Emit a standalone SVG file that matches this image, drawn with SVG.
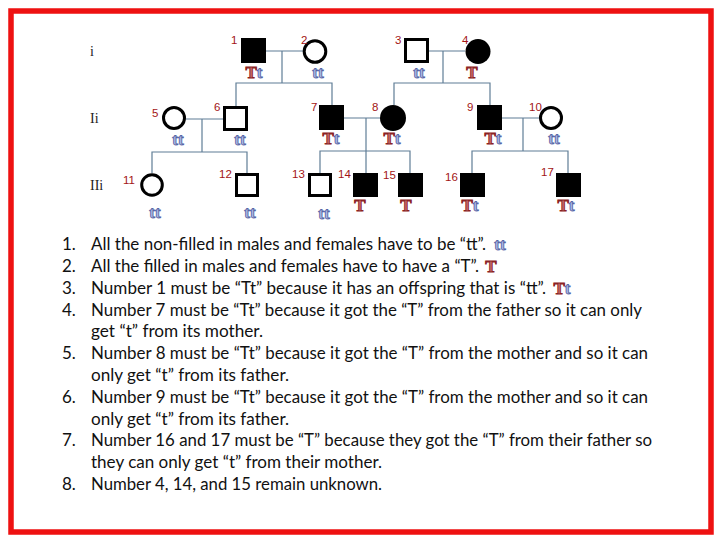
<svg xmlns="http://www.w3.org/2000/svg" width="720" height="540" viewBox="0 0 720 540">
<style>
.num{font-family:"Liberation Sans",Arial,sans-serif;font-size:11.5px;fill:#a31515}
.gen{font-family:"Liberation Serif",serif;font-size:14px;fill:#222}
.g{font-family:"Liberation Serif",serif;font-size:17px;font-weight:bold;stroke-width:0.9;text-anchor:middle}
.T{fill:#c86a6a;stroke:#8a2424}
.t{fill:#aebde8;stroke:#5866a6}
.fill{fill:#000}
.open{fill:#fff;stroke:#000;stroke-width:3}
.conn line,.conn polyline{stroke:#5f7d96;stroke-width:1.2;fill:none}
.txt{font-family:Lato,"Liberation Sans",sans-serif;font-size:17px;fill:#111}
</style>
<rect x="11" y="11" width="700" height="521" fill="#fff" stroke="#ee1111" stroke-width="5.5"/>

<g id="generation-labels">
<text class="gen" x="90" y="56">i</text>
<text class="gen" x="90" y="123">Ii</text>
<text class="gen" x="90" y="190">IIi</text>
</g>

<g id="connectors" class="conn">
<line x1="266" y1="51" x2="303" y2="51"/>
<line x1="282" y1="51" x2="282" y2="83"/>
<polyline points="236,106 236,83 332,83 332,105"/>
<line x1="429" y1="51" x2="465" y2="51"/>
<line x1="443" y1="51" x2="443" y2="83"/>
<polyline points="394,105 394,83 490,83 490,105"/>
<line x1="186" y1="119" x2="223" y2="119"/>
<line x1="202" y1="119" x2="202" y2="152"/>
<polyline points="152,173 152,152 247,152 247,173"/>
<line x1="344" y1="118" x2="380" y2="118"/>
<line x1="366" y1="118" x2="366" y2="173"/>
<polyline points="320,173 320,151 410,151 410,173"/>
<line x1="502" y1="118" x2="539" y2="118"/>
<line x1="523" y1="118" x2="523" y2="151"/>
<polyline points="472,173 472,151 568,151 568,173"/>
</g>

<g id="n1"><rect class="fill" x="241" y="38" width="25" height="25"/><text class="num" x="231" y="44">1</text><text class="g" x="254" y="78"><tspan class="T">T</tspan><tspan class="t">t</tspan></text></g>
<g id="n2"><circle class="open" cx="315" cy="51.5" r="10.8"/><text class="num" x="301" y="44">2</text><text class="g t" x="318" y="78">tt</text></g>
<g id="n3"><rect class="open" x="405.5" y="39.5" width="22" height="22"/><text class="num" x="395" y="44">3</text><text class="g t" x="419" y="78">tt</text></g>
<g id="n4"><circle class="fill" cx="478" cy="51.5" r="12.5"/><text class="num" x="462" y="44">4</text><text class="g T" x="472" y="78">T</text></g>

<g id="n5"><circle class="open" cx="174" cy="118" r="10.5"/><text class="num" x="152" y="117">5</text><text class="g t" x="178" y="145">tt</text></g>
<g id="n6"><rect class="open" x="224.5" y="107.5" width="22" height="22"/><text class="num" x="214" y="111">6</text><text class="g t" x="240" y="145">tt</text></g>
<g id="n7"><rect class="fill" x="319" y="105" width="25" height="25"/><text class="num" x="311" y="111">7</text><text class="g" x="331" y="144"><tspan class="T">T</tspan><tspan class="t">t</tspan></text></g>
<g id="n8"><circle class="fill" cx="393" cy="118" r="13"/><text class="num" x="372" y="111">8</text><text class="g" x="392" y="144"><tspan class="T">T</tspan><tspan class="t">t</tspan></text></g>
<g id="n9"><rect class="fill" x="477" y="105" width="25" height="25"/><text class="num" x="467" y="111">9</text><text class="g" x="493" y="144"><tspan class="T">T</tspan><tspan class="t">t</tspan></text></g>
<g id="n10"><circle class="open" cx="551" cy="118" r="10.5"/><text class="num" x="529" y="111">10</text><text class="g t" x="554" y="144">tt</text></g>

<g id="n11"><circle class="open" cx="152" cy="185" r="10.3"/><text class="num" x="123" y="184">11</text><text class="g t" x="155" y="218">tt</text></g>
<g id="n12"><rect class="open" x="236.5" y="174.5" width="21" height="21"/><text class="num" x="219" y="178">12</text><text class="g t" x="250" y="218">tt</text></g>
<g id="n13"><rect class="open" x="309.5" y="174.5" width="21" height="21"/><text class="num" x="292" y="178">13</text><text class="g t" x="324" y="219">tt</text></g>
<g id="n14"><rect class="fill" x="353" y="173" width="25" height="24"/><text class="num" x="338" y="178">14</text><text class="g T" x="360" y="211">T</text></g>
<g id="n15"><rect class="fill" x="398" y="173" width="25" height="24"/><text class="num" x="383" y="179">15</text><text class="g T" x="406" y="211">T</text></g>
<g id="n16"><rect class="fill" x="460" y="173" width="25" height="24"/><text class="num" x="445" y="181">16</text><text class="g" x="470" y="211"><tspan class="T">T</tspan><tspan class="t">t</tspan></text></g>
<g id="n17"><rect class="fill" x="556" y="173" width="25" height="24"/><text class="num" x="541" y="176">17</text><text class="g" x="566" y="211"><tspan class="T">T</tspan><tspan class="t">t</tspan></text></g>

<g id="notes">
<text class="txt" x="62" y="250">1.</text>
<text class="txt" x="91" y="250" textLength="395" lengthAdjust="spacingAndGlyphs">All the non-filled in males and females have to be “tt”.</text>
<text class="g t" x="500" y="250">tt</text>
<text class="txt" x="62" y="272">2.</text>
<text class="txt" x="91" y="272" textLength="388" lengthAdjust="spacingAndGlyphs">All the filled in males and females have to have a “T”.</text>
<text class="g T" x="491" y="272">T</text>
<text class="txt" x="62" y="294">3.</text>
<text class="txt" x="91" y="294" textLength="455" lengthAdjust="spacingAndGlyphs">Number 1 must be “Tt” because it has an offspring that is “tt”.</text>
<text class="g" x="562" y="294"><tspan class="T">T</tspan><tspan class="t">t</tspan></text>
<text class="txt" x="62" y="315.5">4.</text>
<text class="txt" x="91" y="315.5" textLength="551" lengthAdjust="spacingAndGlyphs">Number 7 must be “Tt” because it got the “T” from the father so it can only</text>
<text class="txt" x="91" y="337" textLength="172" lengthAdjust="spacingAndGlyphs">get “t” from its mother.</text>
<text class="txt" x="62" y="359">5.</text>
<text class="txt" x="91" y="359" textLength="557" lengthAdjust="spacingAndGlyphs">Number 8 must be “Tt” because it got the “T” from the mother and so it can</text>
<text class="txt" x="91" y="381" textLength="198" lengthAdjust="spacingAndGlyphs">only get “t” from its father.</text>
<text class="txt" x="62" y="402.5">6.</text>
<text class="txt" x="91" y="402.5" textLength="557" lengthAdjust="spacingAndGlyphs">Number 9 must be “Tt” because it got the “T” from the mother and so it can</text>
<text class="txt" x="91" y="424.5" textLength="198" lengthAdjust="spacingAndGlyphs">only get “t” from its father.</text>
<text class="txt" x="62" y="446">7.</text>
<text class="txt" x="91" y="446" textLength="561" lengthAdjust="spacingAndGlyphs">Number 16 and 17 must be “T” because they got the “T” from their father so</text>
<text class="txt" x="91" y="468" textLength="291" lengthAdjust="spacingAndGlyphs">they can only get “t” from their mother.</text>
<text class="txt" x="62" y="490">8.</text>
<text class="txt" x="91" y="490" textLength="291" lengthAdjust="spacingAndGlyphs">Number 4, 14, and 15 remain unknown.</text>
</g>
</svg>
